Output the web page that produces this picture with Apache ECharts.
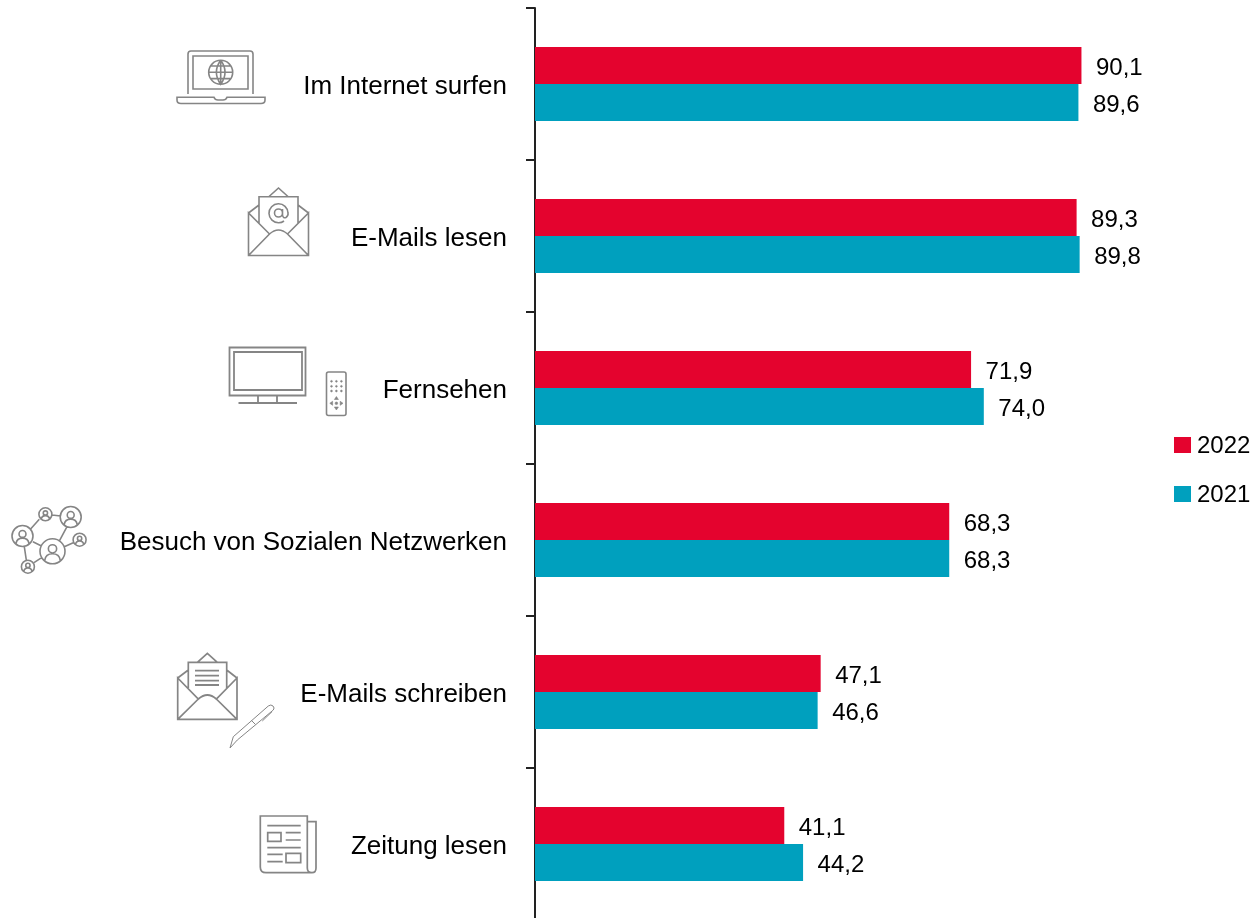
<!DOCTYPE html>
<html lang="de">
<head>
    <meta charset="UTF-8">
    <title>Online-Aktivitaeten</title>
    <script src="https://cdn.jsdelivr.net/npm/echarts@6/dist/echarts.min.js"></script>
    <style>
        *{
            margin: 0;
            padding: 0;
        }
        body{
            background-color: #fff;
            overflow: hidden;
        }
    </style>
</head>
<body>
<div id="main" style="width:1253px;height:918px;"></div>

<script>
    var categories = ['Im Internet surfen', 'E-Mails lesen', 'Fernsehen', 'Besuch von Sozialen Netzwerken', 'E-Mails schreiben', 'Zeitung lesen'];
    var values2022 = [90.1, 89.3, 71.9, 68.3, 47.1, 41.1];
    var values2021 = [89.6, 89.8, 74.0, 68.3, 46.6, 44.2];

    var RED = '#E4032E';
    var BLUE = '#00A0BE';
    var FONT = '"Liberation Sans", Arial, sans-serif';
    var ICON_GREY = '#858585';

    function circle(cx, cy, r) {
        return 'M' + (cx - r) + ' ' + cy + 'A' + r + ' ' + r + ' 0 1 1 ' + (cx + r) + ' ' + cy + 'A' + r + ' ' + r + ' 0 1 1 ' + (cx - r) + ' ' + cy + 'Z';
    }
    function rect(x, y, w, h) {
        return 'M' + x + ' ' + y + 'H' + (x + w) + 'V' + (y + h) + 'H' + x + 'Z';
    }
    // kleiner Kopf mit Schultern im Kreis
    function person(cx, cy, r) {
        var head = r * 0.33;
        var sy = cy + r * 0.72;
        return circle(cx, cy, r) + circle(cx, cy - r * 0.2, head) +
            'M' + (cx - r * 0.62) + ' ' + sy + 'Q' + (cx - r * 0.55) + ' ' + (cy + r * 0.2) + ' ' + cx + ' ' + (cy + r * 0.2) +
            'Q' + (cx + r * 0.55) + ' ' + (cy + r * 0.2) + ' ' + (cx + r * 0.62) + ' ' + sy;
    }
    function envelope(l, r, top, bottom, peak, lx, rx, ly) {
        var m = (l + r) / 2;
        return 'M' + l + ' ' + top + 'V' + bottom + 'H' + r + 'V' + top +
            'L' + (m + 9) + ' ' + (top + 21) + 'Q' + m + ' ' + (top + 13) + ' ' + (m - 9) + ' ' + (top + 21) + 'Z' +
            'M' + l + ' ' + bottom + 'L' + (m - 9) + ' ' + (top + 21) + 'M' + r + ' ' + bottom + 'L' + (m + 9) + ' ' + (top + 21) +
            'M' + l + ' ' + top + 'L' + lx + ' ' + (top - 8) + 'M' + r + ' ' + top + 'L' + rx + ' ' + (top - 8) +
            'M' + (m - 10) + ' ' + (peak + 9) + 'L' + m + ' ' + peak + 'L' + (m + 10) + ' ' + (peak + 9) +
            'M' + lx + ' ' + (top + 10) + 'V' + ly + 'H' + rx + 'V' + (top + 10);
    }

    var iconLaptop =
        'M188 94V54Q188 51 191 51H250Q253 51 253 54V94' + rect(193, 56, 55, 33) +
        circle(220.7, 72.3, 12) + 'M208.7 72.3H232.7M210 66H231.4M210 78.6H231.4' +
        'M220.7 60.3Q212 72.3 220.7 84.3Q229.4 72.3 220.7 60.3M220.7 60.3V84.3' +
        'M177 97.3H214Q215 100 218 100H223Q226 100 227 97.3H265V100Q265 103.5 261 103.5H181Q177 103.5 177 100Z';
    var iconMail = envelope(248.5, 308.5, 213, 255.5, 188, 259, 298, 196.8) +
        circle(278.5, 213, 4) + 'M282.5 209V215Q283 218.5 286 217.5Q288.5 216 288 213A9.5 9.5 0 1 0 284 221';
    var iconTv = rect(229.5, 347.5, 76, 48) + rect(234, 352, 68, 38) +
        'M258 395.5V403M277 395.5V403M238.5 403H297';
    var iconRemote = 'M328.5 372H344Q346 372 346 374V413.5Q346 415.5 344 415.5H328.5Q326.5 415.5 326.5 413.5V374Q326.5 372 328.5 372Z';
    var remoteDots = [];
    [331.5, 336.4, 341.4].forEach(function (x) {
        [381.3, 386.3, 391].forEach(function (y) {
            remoteDots.push(circle(x, y, 0.9));
        });
    });
    remoteDots.push(circle(336.4, 403.3, 1.3), 'M336.4 396.5L338.4 399.5H334.4Z', 'M336.4 410L338.4 407H334.4Z', 'M329.8 403.3L332.6 401.3V405.3Z', 'M343 403.3L340.2 401.3V405.3Z');
    var iconNetwork =
        person(22.5, 536, 10.5) + person(45.4, 514.3, 6.5) + person(70.7, 517, 10.5) +
        person(79.6, 539.7, 6.5) + person(52.5, 551.3, 12.5) + person(27.9, 566.7, 6.5) +
        'M30.4 529.3L39.3 519.3M52 515L60.7 516M67 526.7L59 541.7M64.3 546.7L73.2 542.7' +
        'M32.9 541.7L41 545.7M24.3 546.7L26.4 560.7M42 557.3L34 562.7';
    var iconMailWrite = envelope(177.7, 237, 678, 719.3, 653.3, 188.3, 226.7, 662.3);
    var iconMailLines = 'M195 670.7H219M195 675.7H219M195 680.7H219M195 685H219';
    var iconPen = 'M230 748L233.3 736.7L268.3 706Q271 704 273 706Q275 708 273.3 710L237.3 740Z' +
        'M251.5 720.5L255.5 724.5M272 711.7L262.3 721';
    var iconPaper = 'M307.3 868V816H260.3V867Q260.3 872.7 266 872.7H312Q316 872.7 316 868V821.7H307.3' +
        'M307.3 868Q307.3 872.7 312 872.7' +
        'M267.3 825.7H300.7' + rect(267.7, 832.7, 13.3, 8.6) + 'M285.7 832.7H300.7M285.7 840H300.7M267.3 847.7H300.7' +
        'M267.3 854.3H282.7M267.3 861.7H282.7' + rect(286, 853.3, 14.7, 9.4);

    function iconEl(pathData, lineWidth, filled) {
        return {
            type: 'path',
            silent: true,
            shape: { pathData: pathData },
            style: {
                fill: filled ? ICON_GREY : 'none',
                stroke: ICON_GREY,
                lineWidth: lineWidth
            }
        };
    }
    var iconEls = [
        iconEl(iconLaptop, 1.6),
        iconEl(iconMail, 1.6),
        iconEl(iconTv, 1.8),
        iconEl(iconRemote, 1.6),
        iconEl(remoteDots.join(''), 0.6, true),
        iconEl(iconNetwork, 1.6),
        iconEl(iconMailWrite, 1.7),
        iconEl(iconMailLines, 1.8),
        iconEl(iconPen, 1),
        iconEl(iconPaper, 1.7)
    ];

    function labelText(p) {
        return p.value.toFixed(1).replace('.', ',');
    }
    function barSeries(name, data, color) {
        return {
            name: name,
            type: 'bar',
            data: data,
            barWidth: 37,
            barGap: '0%',
            itemStyle: { color: color },
            label: {
                show: true,
                position: 'right',
                distance: 14.5,
                offset: [0, 3],
                color: '#000',
                fontFamily: FONT,
                fontSize: 24,
                formatter: labelText
            }
        };
    }

    var myChart = echarts.init(document.getElementById('main'));
    var option = {
        animation: false,
        backgroundColor: '#fff',
        grid: { left: 535, top: 8, width: 606.5, height: 912, outerBoundsMode: 'none' },
        legend: {
            orient: 'vertical',
            left: 1174,
            top: 431.5,
            padding: 0,
            itemWidth: 17,
            itemHeight: 16,
            itemGap: 22,
            icon: 'rect',
            selectedMode: false,
            formatter: '{t|{name}}',
            textStyle: {
                rich: {
                    t: { color: '#000', fontFamily: FONT, fontSize: 24, lineHeight: 28, padding: [3, 0, 0, 1] }
                }
            },
            data: ['2022', '2021']
        },
        xAxis: { type: 'value', min: 0, max: 100, show: false },
        yAxis: {
            type: 'category',
            inverse: true,
            data: categories,
            axisLine: { show: true, lineStyle: { color: '#222', width: 2 } },
            axisTick: { show: true, length: 9, lineStyle: { color: '#222', width: 2 } },
            axisLabel: {
                margin: 28,
                formatter: '{t|{value}}',
                rich: {
                    // padding oben schiebt den Text auf die Hoehe des Originals
                    t: { color: '#000', fontFamily: FONT, fontSize: 26, padding: [6, 0, 0, 0] }
                }
            }
        },
        series: [
            barSeries('2022', values2022, RED),
            barSeries('2021', values2021, BLUE),
            {
                // Piktogramme links neben den Kategorien
                type: 'custom',
                coordinateSystem: 'none',
                silent: true,
                clip: false,
                data: [0],
                renderItem: function () {
                    return { type: 'group', children: iconEls };
                }
            }
        ]
    };
    myChart.setOption(option);
</script>
</body>
</html>
